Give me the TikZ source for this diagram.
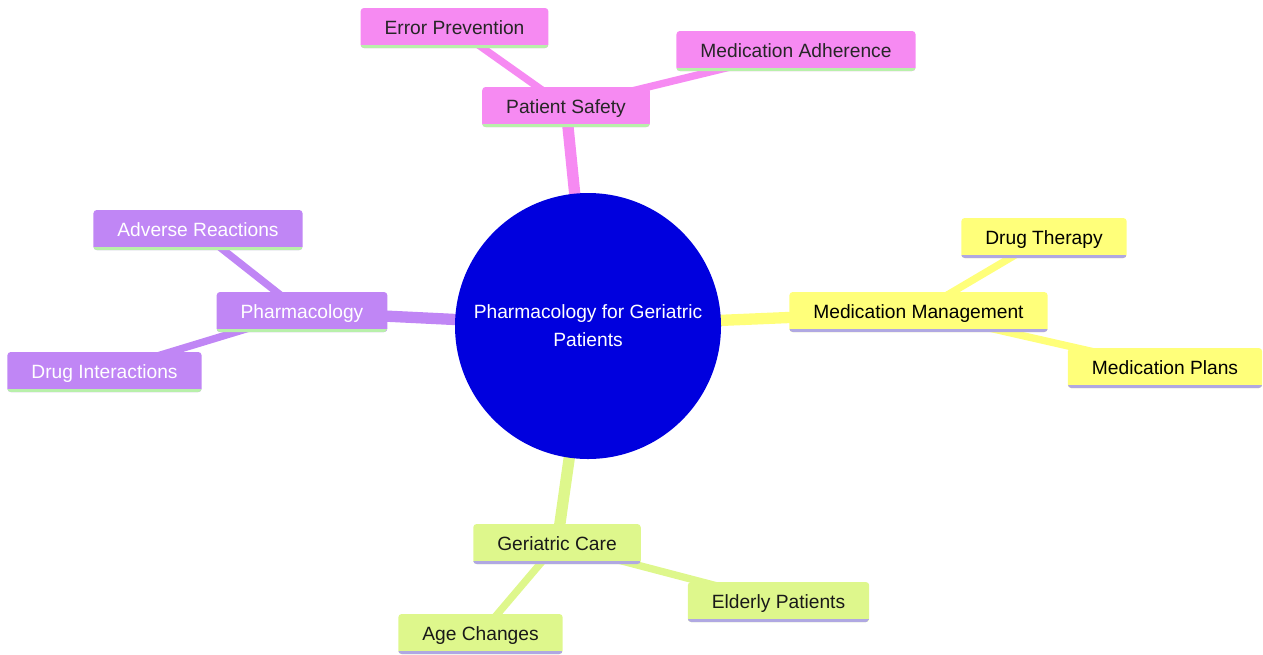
\documentclass[tikz,border=0pt]{standalone}
\usepackage{fontspec}
\setmainfont{Liberation Sans}
\usetikzlibrary{backgrounds}
\definecolor{rootblue}{RGB}{0,0,222}
\definecolor{pinkfill}{RGB}{246,138,242}
\definecolor{purplefill}{RGB}{192,134,245}
\definecolor{yellowfill}{RGB}{255,255,122}
\definecolor{greenfill}{RGB}{222,247,140}
\definecolor{greenline}{RGB}{184,240,170}
\definecolor{lavline}{RGB}{176,168,226}

\begin{document}
\begin{tikzpicture}[x=0.75pt, y=-0.75pt,
    every node/.style={font=\fontsize{14.4}{21}\selectfont},
    box/.style={rectangle, rounded corners=2.5pt, inner xsep=18pt, inner ysep=0pt,
        minimum height=30pt, text height=10.4pt, text depth=0pt},
    underline/.style={path picture={\draw[line width=4pt, #1]
        (path picture bounding box.south west) -- (path picture bounding box.south east);}},
    pinkbox/.style={box, fill=pinkfill, text=black!85, underline=greenline},
    purplebox/.style={box, fill=purplefill, text=white, underline=greenline},
    yellowbox/.style={box, fill=yellowfill, text=black, underline=lavline},
    greenbox/.style={box, fill=greenfill, text=black!90, underline=lavline},
    trunk/.style={line width=8.5pt},
    twig/.style={line width=5.5pt}]
    \useasboundingbox (0, 0) rectangle (1263, 654);

    \node[circle, fill=rootblue, text=white, minimum size=199.5pt, inner sep=0pt,
        align=center] at (588, 326) (root) {Pharmacology for Geriatric\\Patients};

    \node[pinkbox] at (566, 107) (ps) {Patient Safety};
    \node[pinkbox] at (454.5, 28) (ep) {Error Prevention};
    \node[pinkbox] at (796, 51) (ma) {Medication Adherence};

    \node[purplebox] at (302, 312) (ph) {Pharmacology};
    \node[purplebox] at (198, 230) (ar) {Adverse Reactions};
    \node[purplebox] at (104.5, 372) (di) {Drug Interactions};

    \node[yellowbox] at (918.5, 312) (mm) {Medication Management};
    \node[yellowbox] at (1044, 238) (dt) {Drug Therapy};
    \node[yellowbox] at (1165, 368) (mp) {Medication Plans};

    \node[greenbox] at (557, 544) (gc) {Geriatric Care};
    \node[greenbox] at (778.5, 602) (el) {Elderly Patients};
    \node[greenbox] at (480.5, 634) (ac) {Age Changes};

    \begin{scope}[on background layer]
        \draw [trunk, pinkfill] (root.center) -- (ps.center);
        \draw [twig, pinkfill] (ps.center) -- (ep.center);
        \draw [twig, pinkfill] (ps.center) -- (ma.center);
        \draw [trunk, purplefill] (root.center) -- (ph.center);
        \draw [twig, purplefill] (ph.center) -- (ar.center);
        \draw [twig, purplefill] (ph.center) -- (di.center);
        \draw [trunk, yellowfill] (root.center) -- (mm.center);
        \draw [twig, yellowfill] (mm.center) -- (dt.center);
        \draw [twig, yellowfill] (mm.center) -- (mp.center);
        \draw [trunk, greenfill] (root.center) -- (gc.center);
        \draw [twig, greenfill] (gc.center) -- (el.center);
        \draw [twig, greenfill] (gc.center) -- (ac.center);
    \end{scope}
\end{tikzpicture}
\end{document}
